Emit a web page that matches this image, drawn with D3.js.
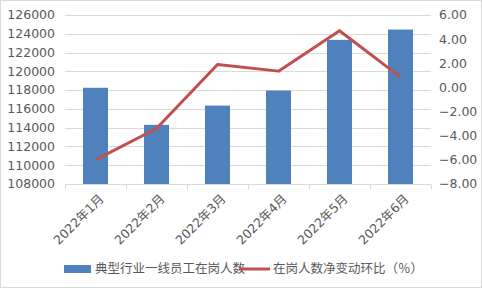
<!DOCTYPE html>
<html>
<head>
<meta charset="utf-8">
<script src="https://cdn.jsdelivr.net/npm/d3@7"></script>
<style>
body { margin: 0; background: #fff; }
text { font-family: "DejaVu Sans", "Noto Sans CJK SC", sans-serif; fill: #595959; }
</style>
</head>
<body>
<script>
// data
var months = ["2022年1月", "2022年2月", "2022年3月", "2022年4月", "2022年5月", "2022年6月"];
var workers = [118250, 114300, 116350, 117950, 123350, 124450];
var netChange = [-6.0, -3.4, 1.9, 1.35, 4.7, 0.85];
var leftTicks = [108000, 110000, 112000, 114000, 116000, 118000, 120000, 122000, 124000, 126000];
var rightTicks = [-8, -6, -4, -2, 0, 2, 4, 6];
var legendNames = ["典型行业一线员工在岗人数", "在岗人数净变动环比（％）"];

var W = 482, H = 290;
var margin = {top: 15, right: 51, bottom: 106, left: 65};
var width = W - margin.left - margin.right,
    height = H - margin.top - margin.bottom;

var svg = d3.select("body").append("svg")
    .attr("width", W)
    .attr("height", H);

// chart frame
svg.append("rect")
    .attr("x", 0.5).attr("y", 0.5)
    .attr("width", W - 1).attr("height", H - 3)
    .attr("fill", "#fff")
    .attr("stroke", "#d9d9d9");

var g = svg.append("g")
    .attr("transform", "translate(" + margin.left + "," + margin.top + ")");

var x = d3.scaleBand().domain(months).range([0, width]).paddingInner(0).paddingOuter(0);
var y1 = d3.scaleLinear().domain([108000, 126000]).range([height, 0]);
var y2 = d3.scaleLinear().domain([-8, 6]).range([height, 0]);

// grid
g.append("g").selectAll("line")
    .data(leftTicks.slice(1))
    .enter().append("line")
    .attr("x1", 0).attr("x2", width)
    .attr("y1", function(d) { return Math.round(y1(d)) + 0.5; })
    .attr("y2", function(d) { return Math.round(y1(d)) + 0.5; })
    .attr("stroke", "#d9d9d9");

// left axis labels
g.append("g").selectAll("text")
    .data(leftTicks)
    .enter().append("text")
    .attr("x", -10)
    .attr("y", function(d) { return y1(d); })
    .attr("dy", "0.35em")
    .attr("text-anchor", "end")
    .style("font-size", "12.5px")
    .text(function(d) { return d; });

// right axis labels
g.append("g").selectAll("text")
    .data(rightTicks)
    .enter().append("text")
    .attr("x", width + 8)
    .attr("y", function(d) { return y2(d); })
    .attr("dy", "0.35em")
    .attr("text-anchor", "start")
    .style("font-size", "12.5px")
    .text(function(d) { return d3.format(".2f")(d); });

// bars
var barW = x.bandwidth() * 0.41;
g.append("g").selectAll("rect")
    .data(workers)
    .enter().append("rect")
    .attr("x", function(d, i) { return x(months[i]) + (x.bandwidth() - barW) / 2; })
    .attr("y", function(d) { return y1(d); })
    .attr("width", barW)
    .attr("height", function(d) { return height - y1(d); })
    .attr("fill", "#4f81bd");

// x axis
var xAxis = g.append("g").attr("transform", "translate(0," + (Math.round(height) + 0.5) + ")");
xAxis.append("line").attr("x1", 0).attr("x2", width).attr("stroke", "#d9d9d9");
xAxis.selectAll(".tk")
    .data(d3.range(months.length + 1))
    .enter().append("line")
    .attr("class", "tk")
    .attr("x1", function(i) { return Math.round(i * x.bandwidth()) + 0.5; })
    .attr("x2", function(i) { return Math.round(i * x.bandwidth()) + 0.5; })
    .attr("y1", 0).attr("y2", 5)
    .attr("stroke", "#d9d9d9");
xAxis.selectAll(".lbl")
    .data(months)
    .enter().append("text")
    .attr("class", "lbl")
    .attr("text-anchor", "end")
    .attr("transform", function(d) {
        return "translate(" + (x(d) + x.bandwidth() / 2 + 6) + ",12) rotate(-45)";
    })
    .attr("dy", "0.35em")
    .style("font-size", "12.5px")
    .text(function(d) { return d; });

// line
g.append("path")
    .datum(netChange)
    .attr("d", d3.line()
        .x(function(d, i) { return x(months[i]) + x.bandwidth() / 2; })
        .y(function(d) { return y2(d); }))
    .attr("fill", "none")
    .attr("stroke", "#c0504d")
    .attr("stroke-width", 3)
    .attr("stroke-linejoin", "round");

// legend
var leg = svg.append("g").attr("transform", "translate(0,269)");
leg.append("rect").attr("x", 64).attr("y", -4).attr("width", 27).attr("height", 8).attr("fill", "#4f81bd");
leg.append("text").attr("x", 95).attr("y", 0).attr("dy", "0.35em")
    .style("font-size", "12.5px").text(legendNames[0]);
leg.append("line").attr("x1", 239).attr("x2", 270).attr("y1", 0).attr("y2", 0)
    .attr("stroke", "#c0504d").attr("stroke-width", 3);
leg.append("text").attr("x", 273).attr("y", 0).attr("dy", "0.35em")
    .style("font-size", "12.5px").text(legendNames[1]);
</script>
</body>
</html>
